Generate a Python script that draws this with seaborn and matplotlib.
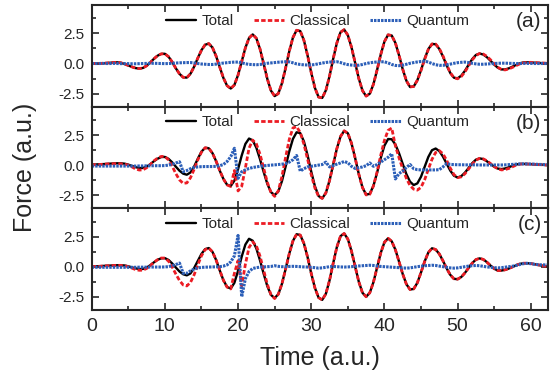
import numpy as np
import pandas as pd
import matplotlib
matplotlib.use('Agg')
import matplotlib.pyplot as plt
import seaborn as sns
from matplotlib.ticker import MultipleLocator
from matplotlib.lines import Line2D

# time axis (a.u.), step 0.5
time = np.arange(0, 63, 0.5)

# panel (a)
a_total = [
    0.00, 0.00, 0.01, 0.02, 0.04, 0.06, 0.09, 0.10, 0.06, -0.04,
    -0.16, -0.28, -0.38, -0.42, -0.37, -0.19, 0.08, 0.39, 0.65, 0.80,
    0.81, 0.57, 0.13, -0.40, -0.86, -1.15, -1.17, -0.85, -0.26, 0.45,
    1.11, 1.56, 1.66, 1.33, 0.62, -0.30, -1.20, -1.84, -2.08, -1.78,
    -0.96, 0.17, 1.30, 2.12, 2.42, 2.10, 1.21, -0.02, -1.28, -2.26,
    -2.71, -2.50, -1.64, -0.37, 1.02, 2.16, 2.77, 2.70, 1.93, 0.67,
    -0.76, -2.02, -2.79, -2.86, -2.23, -1.05, 0.39, 1.71, 2.60, 2.82,
    2.36, 1.36, 0.06, -1.25, -2.25, -2.71, -2.51, -1.72, -0.53, 0.75,
    1.82, 2.39, 2.33, 1.71, 0.68, -0.47, -1.43, -1.95, -1.91, -1.39,
    -0.55, 0.40, 1.20, 1.63, 1.60, 1.21, 0.58, -0.15, -0.79, -1.18,
    -1.23, -1.01, -0.61, -0.11, 0.37, 0.71, 0.83, 0.75, 0.53, 0.23,
    -0.09, -0.35, -0.49, -0.49, -0.40, -0.26, -0.11, 0.02, 0.09, 0.10,
    0.09, 0.07, 0.05, 0.04, 0.03, 0.02]
a_classical = [
    0.00, 0.00, 0.01, 0.02, 0.04, 0.06, 0.09, 0.10, 0.06, -0.04,
    -0.16, -0.28, -0.38, -0.42, -0.37, -0.19, 0.08, 0.39, 0.65, 0.80,
    0.81, 0.57, 0.13, -0.40, -0.86, -1.15, -1.17, -0.85, -0.26, 0.45,
    1.11, 1.56, 1.66, 1.33, 0.62, -0.30, -1.20, -1.84, -2.08, -1.78,
    -0.96, 0.17, 1.30, 2.12, 2.42, 2.10, 1.21, -0.02, -1.28, -2.26,
    -2.71, -2.50, -1.64, -0.37, 1.02, 2.16, 2.77, 2.70, 1.93, 0.67,
    -0.76, -2.02, -2.79, -2.86, -2.23, -1.05, 0.39, 1.71, 2.60, 2.82,
    2.36, 1.36, 0.06, -1.25, -2.25, -2.71, -2.51, -1.72, -0.53, 0.75,
    1.82, 2.39, 2.33, 1.71, 0.68, -0.47, -1.43, -1.95, -1.91, -1.39,
    -0.58, 0.36, 1.17, 1.62, 1.62, 1.25, 0.63, -0.10, -0.76, -1.18,
    -1.27, -1.08, -0.70, -0.20, 0.30, 0.67, 0.83, 0.79, 0.60, 0.31,
    -0.02, -0.31, -0.50, -0.53, -0.45, -0.32, -0.17, -0.03, 0.06, 0.09,
    0.10, 0.08, 0.06, 0.04, 0.03, 0.02]
a_quantum = [
    0.00, 0.00, 0.00, 0.01, 0.00, 0.00, 0.01, 0.00, -0.01, 0.00,
    -0.01, -0.02, -0.02, -0.01, 0.00, 0.01, 0.02, 0.02, 0.01, 0.00,
    -0.01, 0.00, 0.02, 0.04, 0.06, 0.07, 0.08, 0.08, 0.05, 0.00,
    -0.04, -0.06, -0.08, -0.08, -0.05, 0.00, 0.04, 0.07, 0.10, 0.12,
    0.12, 0.06, -0.02, -0.07, -0.09, -0.10, -0.08, -0.03, 0.02, 0.05,
    0.08, 0.11, 0.13, 0.15, 0.14, 0.06, -0.03, -0.08, -0.11, -0.12,
    -0.12, -0.08, -0.02, 0.04, 0.09, 0.12, 0.14, 0.15, 0.08, -0.02,
    -0.09, -0.13, -0.15, -0.14, -0.08, 0.00, 0.06, 0.10, 0.13, 0.15,
    0.14, 0.05, -0.08, -0.16, -0.18, -0.14, -0.06, 0.02, 0.08, 0.13,
    0.17, 0.20, 0.12, 0.00, -0.10, -0.15, -0.15, -0.11, -0.05, 0.02,
    0.07, 0.10, 0.12, 0.08, 0.02, -0.03, -0.06, -0.06, -0.04, -0.02,
    0.00, 0.02, 0.03, 0.03, 0.02, 0.01, 0.00, 0.00, 0.01, 0.01,
    0.01, 0.00, 0.00, 0.00, 0.00, 0.00]

# panel (b)
b_total = [
    0.05, 0.05, 0.07, 0.08, 0.10, 0.12, 0.14, 0.15, 0.15, 0.12,
    0.04, -0.07, -0.17, -0.24, -0.24, -0.13, 0.07, 0.32, 0.53, 0.67,
    0.68, 0.52, 0.23, -0.13, -0.47, -0.71, -0.80, -0.61, -0.12, 0.53,
    1.12, 1.44, 1.40, 1.00, 0.33, -0.46, -1.15, -1.63, -1.74, -1.29,
    -0.34, 0.80, 1.76, 2.21, 2.06, 1.45, 0.50, -0.57, -1.56, -2.25,
    -2.50, -2.19, -1.33, -0.12, 1.15, 2.18, 2.73, 2.66, 1.97, 0.82,
    -0.54, -1.75, -2.57, -2.77, -2.31, -1.29, 0.04, 1.37, 2.38, 2.85,
    2.65, 1.82, 0.59, -0.75, -1.86, -2.45, -2.39, -1.72, -0.63, 0.59,
    1.62, 2.17, 2.15, 1.71, 0.98, 0.10, -0.75, -1.38, -1.66, -1.52,
    -0.97, -0.14, 0.68, 1.24, 1.38, 1.17, 0.71, 0.12, -0.46, -0.88,
    -1.03, -0.92, -0.63, -0.24, 0.16, 0.45, 0.56, 0.50, 0.32, 0.09,
    -0.13, -0.29, -0.33, -0.28, -0.18, -0.05, 0.05, 0.10, 0.10, 0.09,
    0.08, 0.06, 0.04, 0.03, 0.01, 0.00]
b_classical = [
    0.02, 0.03, 0.05, 0.07, 0.09, 0.11, 0.12, 0.12, 0.11, 0.08,
    0.00, -0.15, -0.32, -0.41, -0.40, -0.22, 0.05, 0.35, 0.58, 0.72,
    0.72, 0.43, -0.09, -0.71, -1.23, -1.52, -1.48, -1.05, -0.35, 0.43,
    1.08, 1.44, 1.40, 1.00, 0.33, -0.46, -1.15, -1.65, -1.78, -0.45,
    -2.15, -1.76, -0.24, 1.40, 2.08, 1.77, 0.91, -0.26, -1.43, -2.29,
    -2.60, -2.14, -0.94, 0.65, 2.14, 3.09, 3.20, 2.71, 1.74, 0.50,
    -0.79, -1.90, -2.60, -2.77, -2.31, -1.29, 0.04, 1.37, 2.38, 2.85,
    2.65, 1.82, 0.59, -0.75, -1.86, -2.48, -2.43, -1.73, -0.56, 0.83,
    2.05, 2.89, 3.08, 1.60, 0.60, -0.30, -1.10, -1.70, -2.00, -2.08,
    -1.85, -1.21, -0.35, 0.48, 1.05, 1.20, 0.94, 0.40, -0.25, -0.79,
    -1.04, -0.98, -0.72, -0.33, 0.08, 0.41, 0.56, 0.52, 0.36, 0.13,
    -0.12, -0.31, -0.40, -0.37, -0.28, -0.14, 0.00, 0.08, 0.10, 0.09,
    0.08, 0.06, 0.04, 0.03, 0.01, 0.00]
b_quantum = [
    -0.08, -0.08, -0.08, -0.08, -0.08, -0.08, -0.08, -0.08, -0.08, -0.08,
    -0.08, -0.08, -0.08, -0.07, -0.07, -0.06, -0.06, -0.05, -0.05, -0.05,
    -0.04, 0.00, 0.08, 0.18, 0.28, -0.55, -0.45, -0.30, -0.20, -0.15,
    -0.13, -0.12, -0.12, -0.12, -0.10, -0.05, 0.05, 0.30, 0.70, 1.40,
    -1.10, -0.55, -0.40, -0.28, -0.20, -0.15, -0.10, -0.06, -0.03, 0.00,
    0.02, 0.05, 0.08, 0.12, 0.25, 0.45, 0.80, -0.50, -0.30, -0.15,
    -0.10, -0.05, 0.00, 0.05, 0.25, -0.15, -0.05, 0.08, 0.18, 0.30,
    0.20, -0.10, -0.28, -0.22, -0.15, -0.05, 0.18, -0.10, 0.05, 0.25,
    0.45, 0.65, 0.95, -1.15, -0.70, -0.50, -0.20, 0.05, -0.30, -0.38,
    -0.40, -0.40, -0.40, -0.40, -0.40, -0.38, -0.15, 0.12, 0.06, 0.04,
    0.03, 0.03, 0.02, 0.02, 0.02, 0.02, 0.01, 0.01, 0.01, 0.01,
    0.01, 0.01, 0.01, 0.02, 0.04, 0.06, 0.08, 0.09, 0.10, 0.10,
    0.09, 0.08, 0.06, 0.05, 0.04, 0.03]

# panel (c)
c_total = [
    0.03, 0.03, 0.04, 0.06, 0.08, 0.09, 0.11, 0.12, 0.12, 0.10,
    0.03, -0.06, -0.14, -0.19, -0.19, -0.08, 0.12, 0.36, 0.57, 0.70,
    0.71, 0.56, 0.27, -0.07, -0.40, -0.63, -0.72, -0.56, -0.11, 0.48,
    1.06, 1.46, 1.55, 1.24, 0.56, -0.31, -1.13, -1.68, -1.82, -1.34,
    -0.35, 0.84, 1.84, 2.32, 2.16, 1.52, 0.53, -0.59, -1.62, -2.35,
    -2.61, -2.29, -1.42, -0.19, 1.09, 2.14, 2.70, 2.63, 1.94, 0.80,
    -0.56, -1.76, -2.57, -2.76, -2.25, -1.14, 0.29, 1.63, 2.54, 2.76,
    2.30, 1.30, 0.01, -1.25, -2.17, -2.50, -2.17, -1.29, -0.07, 1.15,
    2.03, 2.36, 2.11, 1.41, 0.42, -0.61, -1.45, -1.90, -1.85, -1.34,
    -0.48, 0.44, 1.18, 1.53, 1.43, 1.06, 0.49, -0.14, -0.68, -1.01,
    -1.04, -0.86, -0.52, -0.10, 0.30, 0.59, 0.69, 0.61, 0.38, 0.09,
    -0.17, -0.32, -0.32, -0.26, -0.15, -0.02, 0.12, 0.23, 0.29, 0.29,
    0.26, 0.21, 0.15, 0.09, 0.04, 0.02]
c_classical = [
    0.02, 0.02, 0.03, 0.05, 0.07, 0.08, 0.10, 0.11, 0.11, 0.08,
    0.00, -0.12, -0.24, -0.30, -0.29, -0.15, 0.08, 0.36, 0.58, 0.72,
    0.72, 0.46, -0.03, -0.61, -1.15, -1.52, -1.60, -1.31, -0.67, 0.14,
    0.91, 1.42, 1.55, 1.24, 0.56, -0.31, -1.13, -1.70, -1.85, -0.55,
    0.50, -1.60, 0.20, 1.60, 2.06, 1.74, 0.88, -0.30, -1.47, -2.33,
    -2.65, -2.29, -1.42, -0.19, 1.09, 2.14, 2.70, 2.63, 1.94, 0.80,
    -0.56, -1.76, -2.57, -2.76, -2.25, -1.14, 0.29, 1.63, 2.54, 2.76,
    2.30, 1.30, 0.01, -1.25, -2.17, -2.50, -2.17, -1.29, -0.07, 1.15,
    2.03, 2.36, 2.11, 1.41, 0.42, -0.61, -1.45, -1.90, -1.85, -1.34,
    -0.48, 0.44, 1.18, 1.53, 1.43, 1.06, 0.49, -0.14, -0.68, -1.01,
    -1.04, -0.86, -0.52, -0.10, 0.30, 0.59, 0.69, 0.61, 0.38, 0.09,
    -0.17, -0.32, -0.32, -0.26, -0.15, -0.02, 0.12, 0.23, 0.29, 0.29,
    0.26, 0.21, 0.15, 0.09, 0.04, 0.02]
c_quantum = [
    -0.05, -0.05, -0.05, -0.05, -0.05, -0.05, -0.05, -0.05, -0.05, -0.05,
    -0.05, -0.05, -0.05, -0.04, -0.04, -0.04, -0.03, -0.03, -0.03, -0.03,
    -0.02, 0.00, 0.08, 0.18, 0.30, -0.55, -0.55, -0.35, -0.20, -0.10,
    -0.06, -0.04, -0.03, -0.02, -0.01, 0.00, 0.05, 0.15, 0.40, 0.90,
    2.60, -2.50, -1.00, -0.40, -0.15, -0.08, -0.04, -0.02, 0.00, 0.02,
    0.08, 0.03, 0.00, 0.00, 0.02, 0.03, 0.02, 0.00, -0.02, -0.03,
    -0.05, -0.08, -0.12, -0.10, -0.05, 0.00, 0.02, 0.00, -0.02, -0.03,
    -0.02, 0.00, 0.03, 0.06, 0.08, 0.10, 0.12, 0.10, 0.06, 0.02,
    0.00, -0.02, -0.04, -0.06, -0.08, -0.10, -0.12, -0.10, -0.05, 0.00,
    0.04, 0.08, 0.10, 0.12, 0.10, 0.05, 0.00, -0.05, -0.10, -0.12,
    -0.10, -0.05, 0.00, 0.05, 0.08, 0.10, 0.08, 0.03, -0.02, -0.05,
    -0.08, -0.10, -0.08, -0.04, 0.00, 0.04, 0.10, 0.18, 0.25, 0.28,
    0.25, 0.20, 0.17, 0.15, 0.15, 0.15]

panels = [('(a)', a_total, a_classical, a_quantum),
          ('(b)', b_total, b_classical, b_quantum),
          ('(c)', c_total, c_classical, c_quantum)]

series_names = ['Total', 'Classical', 'Quantum']
colors = ['black', '#ec1c24', '#2c5fb8']
styles = ['-', (0, (1.6, 0.8)), (0, (0.8, 0.35))]
widths = [1.7, 2.0, 2.2]

sns.set_style('ticks')
plt.rcParams['font.family'] = ['Liberation Sans', 'DejaVu Sans']

fig, axes = plt.subplots(3, 1, figsize=(5.5, 3.73), dpi=100, sharex=True)
fig.subplots_adjust(left=0.1667, right=0.997, top=0.986, bottom=0.169, hspace=0)

for ax, (tag, tot, cla, qua) in zip(axes, panels):
    for name, vals, c, ls, lw in zip(series_names, [tot, cla, qua], colors, styles, widths):
        df = pd.DataFrame({'time': time, 'force': vals})
        sns.lineplot(data=df, x='time', y='force', ax=ax, color=c,
                     linestyle=ls, lw=lw, label=name, legend=False)
    ax.set_xlim(0, 62.4)
    ax.set_ylim(-3.6, 4.85)
    ax.set_xlabel('')
    ax.set_ylabel('')
    ax.xaxis.set_major_locator(MultipleLocator(10))
    ax.xaxis.set_minor_locator(MultipleLocator(5))
    ax.yaxis.set_major_locator(MultipleLocator(2.5))
    ax.yaxis.set_minor_locator(MultipleLocator(1.25))
    ax.tick_params(which='both', direction='in', top=True, right=True, width=1.2)
    ax.tick_params(which='major', length=5)
    ax.tick_params(which='minor', length=3)
    ax.tick_params(axis='y', labelsize=11, pad=5)
    ax.tick_params(axis='x', labelsize=14, pad=6)
    ax.set_yticks([-2.5, 0, 2.5])
    ax.set_yticklabels(['-2.5', '0.0', '2.5'])
    for sp in ax.spines.values():
        sp.set_linewidth(1.5)
    handles = [Line2D([], [], color=c, linestyle=ls, lw=lw)
               for c, ls, lw in zip(colors, styles, widths)]
    ax.legend(handles, series_names, loc='upper center', bbox_to_anchor=(0.494, 1.05),
              ncol=3, frameon=False, fontsize=11, handlelength=2.0,
              handletextpad=0.35, columnspacing=1.3)
    ax.text(0.985, 0.84, tag, transform=ax.transAxes, ha='right', va='center', fontsize=15)

axes[-1].set_xlabel('Time (a.u.)', fontsize=18, labelpad=8)
fig.text(0.045, 0.55, 'Force (a.u.)', rotation=90, ha='center', va='center', fontsize=18)

fig.savefig('out.png', dpi=100)
